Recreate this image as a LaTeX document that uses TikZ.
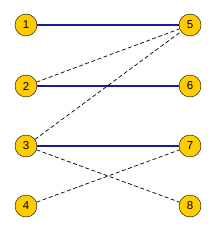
\documentclass[tikz,border=0pt]{standalone}
\usepackage{fontspec}
\setmainfont{Liberation Sans}
\definecolor{nodegold}{HTML}{FFCC00}
\definecolor{matchblue}{HTML}{1A1A99}
\tikzset{
  vert/.style={circle, draw=black, fill=nodegold, minimum size=22pt, inner sep=0pt, font=\fontsize{11.5}{13}\selectfont},
  matched/.style={draw=matchblue, line width=1.8pt},
  unmatched/.style={draw=black, line width=0.7pt, dash pattern=on 4pt off 2.5pt}
}
\begin{document}
\begin{tikzpicture}[x=1pt, y=-1pt, line join=round]
	\useasboundingbox (0,0) rectangle (216,232);
	\node[vert] (v1) at (26,25) {1};
	\node[vert] (v2) at (26,86) {2};
	\node[vert] (v3) at (26,146) {3};
	\node[vert] (v4) at (26,206) {4};
	\node[vert] (v5) at (190,25) {5};
	\node[vert] (v6) at (190,86) {6};
	\node[vert] (v7) at (190,146) {7};
	\node[vert] (v8) at (190,206) {8};
	\draw[matched] (v1) -- (v5);
	\draw[matched] (v2) -- (v6);
	\draw[matched] (v3) -- (v7);
	\draw[unmatched] (v2) -- (v5);
	\draw[unmatched] (v3) -- (v5);
	\draw[unmatched] (v3) -- (v8);
	\draw[unmatched] (v4) -- (v7);
\end{tikzpicture}
\end{document}
